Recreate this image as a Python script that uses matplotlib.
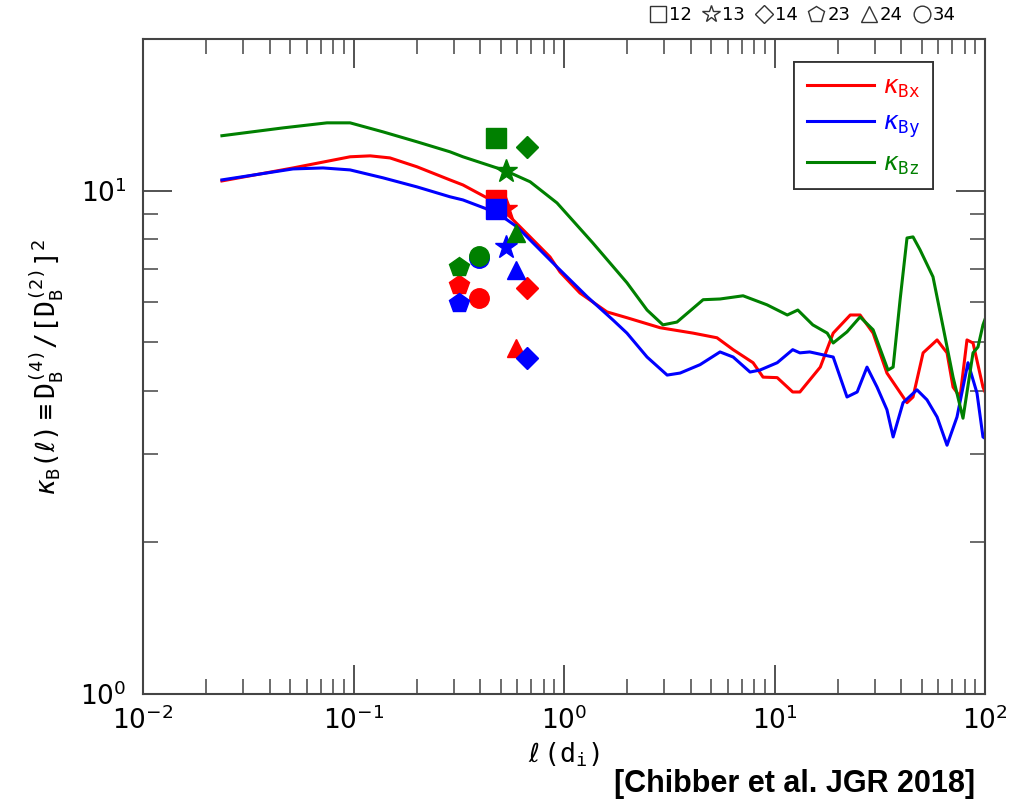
import matplotlib
matplotlib.use("Agg")
from matplotlib import pyplot as plt
from matplotlib.lines import Line2D
from matplotlib.ticker import FuncFormatter
import numpy as np

plt.rcParams["mathtext.fontset"] = "custom"
plt.rcParams["mathtext.rm"] = "DejaVu Sans Mono"
plt.rcParams["mathtext.it"] = "DejaVu Sans:italic"
plt.rcParams["mathtext.bf"] = "DejaVu Sans Mono:bold"
plt.rcParams["mathtext.sf"] = "DejaVu Sans"

# --- kurtosis curves ---
l_bx = [0.0237, 0.0516, 0.0963, 0.120, 0.149, 0.200, 0.287, 0.331, 0.431, 0.554,
        0.690, 0.858, 0.957, 1.19, 1.60, 1.99, 2.86, 4.10, 5.33, 6.36,
        7.91, 8.82, 10.3, 12.2, 13.2, 16.5, 19.0, 22.9, 25.5, 29.4,
        34.2, 42.6, 45.5, 50.8, 59.2, 66.0, 70.5, 76.1, 82.1, 87.7, 97.8, 100]
k_bx = [10.45, 11.09, 11.67, 11.72, 11.61, 11.15, 10.50, 10.26, 9.67, 8.87,
        8.09, 7.38, 6.89, 6.26, 5.74, 5.59, 5.34, 5.21, 5.10, 4.83,
        4.55, 4.26, 4.25, 3.98, 3.98, 4.46, 5.21, 5.66, 5.66, 5.21,
        4.34, 3.79, 3.89, 4.76, 5.05, 4.76, 4.07, 3.89, 5.05, 4.98, 4.07, 3.98]

l_by = [0.0237, 0.0516, 0.0716, 0.0963, 0.138, 0.200, 0.287, 0.331, 0.481, 0.598,
        0.744, 0.926, 1.29, 1.71, 1.99, 2.48, 3.09, 3.56, 4.43, 5.51,
        6.36, 7.65, 8.53, 10.3, 12.2, 13.2, 14.7, 19.0, 22.1, 24.7,
        27.5, 30.7, 34.2, 36.6, 40.8, 47.5, 53.0, 59.2, 66.0, 73.6,
        83.0, 91.6, 97.8, 100]
k_by = [10.50, 11.04, 11.09, 10.99, 10.60, 10.17, 9.72, 9.58, 9.03, 8.47,
        7.73, 7.05, 6.15, 5.53, 5.21, 4.67, 4.30, 4.34, 4.51, 4.78,
        4.67, 4.36, 4.40, 4.55, 4.83, 4.76, 4.78, 4.67, 3.89, 3.98,
        4.46, 4.07, 3.67, 3.24, 3.79, 4.02, 3.84, 3.55, 3.12, 3.55,
        4.55, 3.96, 3.24, 3.22]

l_bz = [0.0237, 0.0463, 0.0748, 0.0963, 0.138, 0.200, 0.287, 0.331, 0.530, 0.690,
        0.926, 1.37, 1.99, 2.48, 2.95, 3.44, 4.58, 5.51, 7.09, 9.21,
        11.5, 12.9, 15.2, 17.8, 19.0, 22.1, 25.5, 29.4, 34.6, 36.6,
        39.5, 42.6, 45.5, 49.1, 56.6, 63.2, 70.5, 78.6, 87.7, 92.6, 97.8, 100]
k_bz = [12.85, 13.32, 13.63, 13.63, 13.08, 12.50, 11.94, 11.67, 10.94, 10.41,
        9.45, 7.87, 6.56, 5.79, 5.41, 5.48, 6.07, 6.09, 6.18, 5.93,
        5.66, 5.79, 5.41, 5.21, 4.98, 5.24, 5.61, 5.29, 4.40, 4.46,
        6.07, 8.05, 8.09, 7.63, 6.74, 5.36, 4.26, 3.53, 4.76, 4.89, 5.41, 5.55]

# --- spacecraft pair estimates: separation and kappa for Bx, By, Bz ---
pairs = ["12", "13", "14", "23", "24", "34"]
pair_markers = ["s", "*", "D", "p", "^", "o"]
pair_sep = [0.475, 0.530, 0.667, 0.317, 0.592, 0.395]
pair_kx = [9.58, 9.20, 6.41, 6.50, 4.87, 6.12]
pair_ky = [9.20, 7.73, 4.65, 5.98, 6.96, 7.36]
pair_kz = [12.72, 10.94, 12.21, 7.05, 8.24, 7.42]

colors = {"x": "#ff0000", "y": "#0000ff", "z": "#008000"}
msize = {"s": 14, "*": 17, "D": 11, "p": 15, "^": 13, "o": 14}
key_size = {"s": 12, "*": 13, "D": 9.5, "p": 12, "^": 12, "o": 12}

fig = plt.figure(figsize=(10.18, 8.01), dpi=100)
ax = fig.add_axes([0.1405, 0.1336, 0.8271, 0.8177])

ax.plot(l_bx, k_bx, color=colors["x"], lw=2.2, label=r"$\kappa_{\rm Bx}$", zorder=2)
ax.plot(l_by, k_by, color=colors["y"], lw=2.2, label=r"$\kappa_{\rm By}$", zorder=2)
ax.plot(l_bz, k_bz, color=colors["z"], lw=2.2, label=r"$\kappa_{\rm Bz}$", zorder=2)

for comp, vals in (("x", pair_kx), ("y", pair_ky), ("z", pair_kz)):
    for m, s, v in zip(pair_markers, pair_sep, vals):
        ax.plot([s], [v], marker=m, ms=msize[m], color=colors[comp],
                mec=colors[comp], ls="none", zorder=3)

ax.set_xscale("log")
ax.set_yscale("log")
ax.set_xlim(1e-2, 1e2)
ax.set_ylim(1, 20)

decade = FuncFormatter(lambda v, pos: r"$\mathsf{10^{%d}}$" % round(np.log10(v)))
ax.xaxis.set_major_formatter(decade)
ax.yaxis.set_major_formatter(decade)

for sp in ax.spines.values():
    sp.set_linewidth(1.5)
    sp.set_color("#444444")
ax.tick_params(which="both", direction="in", top=True, right=True, color="#444444")
ax.tick_params(which="major", length=21, width=1.3, labelsize=19)
ax.tick_params(which="minor", length=10.5, width=1.1)
ax.tick_params(axis="x", which="major", pad=9)
ax.tick_params(axis="y", which="major", pad=12)

ax.set_xlabel(r"$\ell\,({\rm d_i})$", fontsize=19, labelpad=4)
ax.set_ylabel(r"$\kappa_{\rm B}(\ell)\equiv{\rm D}_{\rm B}^{(4)}/[{\rm D}_{\rm B}^{(2)}]^2$",
              fontsize=19, labelpad=10)

leg = ax.legend(loc="upper right", bbox_to_anchor=(0.938, 0.965), fontsize=18,
                labelcolor="linecolor", fancybox=False, edgecolor="#333333",
                framealpha=1, borderaxespad=0, handlelength=2.7, handletextpad=0.35,
                labelspacing=0.45, borderpad=0.5)
leg.get_frame().set_linewidth(1.3)
ax.add_artist(leg)

handles = [Line2D([], [], marker=m, ls="none", mfc="none", mec="#333333",
                  ms=key_size[m], mew=1.0) for m in pair_markers]
fig.legend(handles, pairs, loc="center right", bbox_to_anchor=(0.939, 0.981),
           ncol=6, frameon=False, fontsize=13, handlelength=0.9, handletextpad=0.15,
           columnspacing=0.6, borderpad=0, borderaxespad=0)

fig.text(0.958, 0.002, "[Chibber et al. JGR 2018]", ha="right", va="bottom",
         fontsize=22, fontweight="bold", family="Liberation Sans")

fig.savefig("out.png", dpi=100)
